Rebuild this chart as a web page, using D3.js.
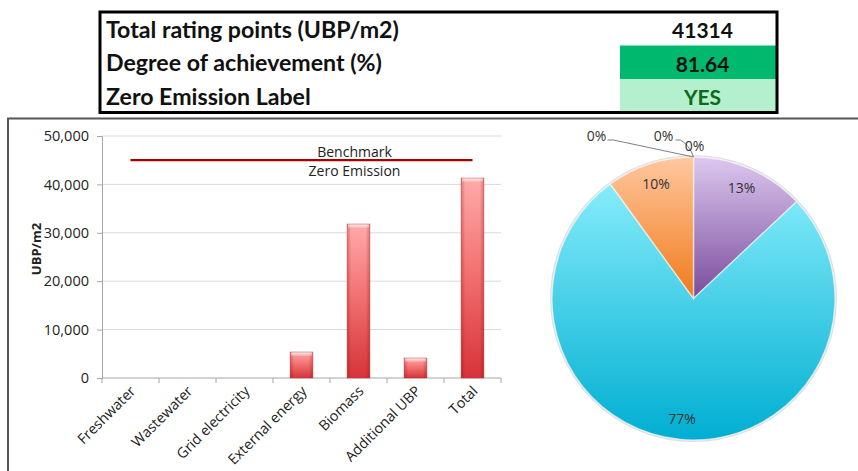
<!DOCTYPE html>
<html>
<head>
<meta charset="utf-8">
<script src="https://cdn.jsdelivr.net/npm/d3@7/dist/d3.min.js"></script>
<style>
  html, body { margin: 0; padding: 0; background: #ffffff; }
  svg { display: block; }
</style>
</head>
<body>
<svg id="chart" width="858" height="471"></svg>
<script>
// ---- data ----
const categories = ["Freshwater", "Wastewater", "Grid electricity", "External energy", "Biomass", "Additional UBP", "Total"];
const values = [0, 0, 0, 5370, 31813, 4131, 41314];
const yTicks = [0, 10000, 20000, 30000, 40000, 50000];
const benchmarkValue = 45000;
const benchmarkLabels = ["Benchmark", "Zero Emission"];
const yAxisTitle = "UBP/m2";

// pie uses every component except the total
const pieCategories = categories.slice(0, 6);
const pieValues = values.slice(0, 6);
const pieColors = [
  ["#9dbbe6", "#4a7ebb"],
  ["#f0a3a1", "#be4b48"],
  ["#cde3a6", "#98b954"],
  ["#dcc8ef", "#7a4b9c"],
  ["#86ecfb", "#00aed1"],
  ["#ffc79f", "#f07a1a"]
];

const summaryLabels = ["Total rating points (UBP/m2)", "Degree of achievement (%)", "Zero Emission Label"];
const summaryValues = ["41314", "81.64", "YES"];

// ---- setup ----
const svg = d3.select("#chart");
const defs = svg.append("defs");
const FONT = "'Open Sans', 'Noto Sans', sans-serif";

const grad = (id, x2, y2, stops) => {
  const g = defs.append("linearGradient").attr("id", id)
    .attr("x1", 0).attr("y1", 0).attr("x2", x2).attr("y2", y2);
  stops.forEach(([o, c, a]) => g.append("stop").attr("offset", o).attr("stop-color", c).attr("stop-opacity", a == null ? 1 : a));
};
grad("barFill", 0, 1, [[0, "#ffaaaa"], [0.45, "#f37373"], [1, "#d6333a"]]);
grad("barShade", 1, 0, [[0, "#8a0000", 0.3], [0.18, "#8a0000", 0], [0.82, "#8a0000", 0], [1, "#8a0000", 0.3]]);
grad("barCap", 0, 1, [[0, "#ffffff", 0.75], [1, "#ffffff", 0]]);
pieColors.forEach((c, i) => grad("slice" + i, 0, 1, [[0, c[0]], [1, c[1]]]));

// ---- summary table ----
const table = { x0: 100, x1: 777, y0: 12, rowH: 33.5, valX0: 620 };
const rowFills = ["#ffffff", "#00b96e", "#b4efce"];
const valueColors = ["#111111", "#111111", "#0b6a1c"];
const tg = svg.append("g");

summaryLabels.forEach((lab, i) => {
  const yTop = table.y0 + i * table.rowH;
  tg.append("rect").attr("x", table.valX0).attr("y", yTop)
    .attr("width", table.x1 - table.valX0).attr("height", table.rowH)
    .attr("fill", rowFills[i]);
});
tg.append("rect").attr("x", table.x0).attr("y", table.y0)
  .attr("width", table.x1 - table.x0).attr("height", table.rowH * 3)
  .attr("fill", "none").attr("stroke", "#000").attr("stroke-width", 3);

const labelTexts = tg.selectAll("text.lab").data(summaryLabels).join("text")
  .attr("class", "lab")
  .attr("x", table.x0 + 6)
  .attr("y", (d, i) => table.y0 + i * table.rowH + table.rowH / 2)
  .attr("dominant-baseline", "central")
  .attr("font-family", "Lato, 'Open Sans', sans-serif")
  .attr("font-weight", 700)
  .attr("font-size", 21)
  .attr("fill", "#111")
  .text(d => d);
// size the label font so the first row fills its measured width
const w0 = labelTexts.node().getComputedTextLength();
labelTexts.attr("font-size", 21 * 293 / w0);

tg.selectAll("text.val").data(summaryValues).join("text")
  .attr("class", "val")
  .attr("x", (table.valX0 + table.x1) / 2 + 4)
  .attr("y", (d, i) => table.y0 + i * table.rowH + table.rowH / 2 + 1)
  .attr("text-anchor", "middle")
  .attr("dominant-baseline", "central")
  .attr("font-family", "Lato, 'Open Sans', sans-serif")
  .attr("font-weight", 700)
  .attr("font-size", 21)
  .attr("fill", (d, i) => valueColors[i])
  .text(d => d);

// ---- panel frame ----
svg.append("path")
  .attr("d", "M8,471 L8,118.5 L858,118.5")
  .attr("fill", "none").attr("stroke", "#555").attr("stroke-width", 2);

// ---- bar chart ----
const plot = { left: 102, right: 501, top: 136, bottom: 378 };
const x = d3.scaleBand().domain(categories).range([plot.left, plot.right])
  .paddingInner(0.6).paddingOuter(0.3);
const y = d3.scaleLinear().domain([0, 50000]).range([plot.bottom, plot.top]);
const bw = x.bandwidth();
const bc = svg.append("g");

// gridlines
bc.selectAll("line.grid").data(yTicks.filter(t => t > 0)).join("line")
  .attr("x1", plot.left).attr("x2", plot.right)
  .attr("y1", d => y(d)).attr("y2", d => y(d))
  .attr("stroke", "#d9d9d9").attr("stroke-width", 1);

// y axis
const yAxis = d3.axisLeft(y).tickValues(yTicks).tickFormat(d3.format(",")).tickSize(5).tickPadding(8);
const yg = bc.append("g").attr("transform", `translate(${plot.left},0)`).call(yAxis);
yg.select(".domain").attr("stroke", "#a6a6a6");
yg.selectAll(".tick line").attr("stroke", "#a6a6a6");
yg.selectAll(".tick text").attr("font-family", FONT)
  .attr("font-size", 14.5).attr("fill", "#222");

// x axis line and category boundary ticks
bc.append("line").attr("x1", plot.left).attr("x2", plot.right)
  .attr("y1", plot.bottom).attr("y2", plot.bottom).attr("stroke", "#a6a6a6");
const bounds = d3.range(categories.length + 1).map(i => plot.left + i * x.step());
bc.selectAll("line.xt").data(bounds).join("line")
  .attr("x1", d => d).attr("x2", d => d)
  .attr("y1", plot.bottom).attr("y2", plot.bottom + 5)
  .attr("stroke", "#a6a6a6");

// category labels
bc.selectAll("text.cat").data(categories).join("text")
  .attr("class", "cat")
  .attr("transform", d => `translate(${x(d) + bw / 2 + 6},${plot.bottom + 14}) rotate(-45)`)
  .attr("text-anchor", "end")
  .attr("font-family", FONT)
  .attr("font-size", 14.3)
  .attr("fill", "#222")
  .text(d => d);

// y axis title
bc.append("text")
  .attr("transform", `translate(36,${(plot.top + plot.bottom) / 2 - 8}) rotate(-90)`)
  .attr("text-anchor", "middle").attr("dominant-baseline", "central")
  .attr("font-family", FONT).attr("font-weight", 700)
  .attr("font-size", 13).attr("fill", "#222")
  .text(yAxisTitle);

// bars
const bars = bc.selectAll("g.bar").data(categories.map((c, i) => ({ c, v: values[i] })).filter(d => d.v > 0))
  .join("g").attr("class", "bar");
bars.append("rect")
  .attr("x", d => x(d.c)).attr("y", d => y(d.v))
  .attr("width", bw).attr("height", d => y(0) - y(d.v))
  .attr("fill", "url(#barFill)");
bars.append("rect")
  .attr("x", d => x(d.c)).attr("y", d => y(d.v))
  .attr("width", bw).attr("height", d => y(0) - y(d.v))
  .attr("fill", "url(#barShade)")
  .attr("stroke", "#b83a3a").attr("stroke-opacity", 0.55).attr("stroke-width", 0.8);
bars.append("rect")
  .attr("x", d => x(d.c) + 1).attr("y", d => y(d.v) + 0.5)
  .attr("width", bw - 2).attr("height", 4)
  .attr("fill", "url(#barCap)");

// benchmark line and labels
const bx1 = x(categories[0]) + bw / 2;
const bx2 = x(categories[categories.length - 1]) + bw / 2;
bc.append("line")
  .attr("x1", bx1).attr("x2", bx2)
  .attr("y1", y(benchmarkValue)).attr("y2", y(benchmarkValue))
  .attr("stroke", "#a80000").attr("stroke-width", 2.2);
const labX = x("Biomass") + bw / 2 - 4;
bc.selectAll("text.bm").data(benchmarkLabels).join("text")
  .attr("x", labX)
  .attr("y", (d, i) => y(benchmarkValue) + (i === 0 ? -9 : 10))
  .attr("text-anchor", "middle").attr("dominant-baseline", "central")
  .attr("font-family", FONT).attr("font-size", 14)
  .attr("fill", "#222")
  .text(d => d);

// ---- pie chart ----
const pc = { cx: 693.5, cy: 298.5, r: 141.5 };
const total = d3.sum(pieValues);
const arcs = d3.pie().sort(null).value(d => d)(pieValues);
const arc = d3.arc().innerRadius(0).outerRadius(pc.r);
const pg = svg.append("g").attr("transform", `translate(${pc.cx},${pc.cy})`);

pg.append("circle").attr("r", pc.r + 1).attr("fill", "none")
  .attr("stroke", "#000").attr("stroke-opacity", 0.12).attr("stroke-width", 2);
pg.selectAll("path.slice").data(arcs).join("path")
  .attr("class", "slice")
  .attr("d", arc)
  .attr("fill", (d, i) => `url(#slice${i})`)
  .attr("stroke", "#ffffff").attr("stroke-opacity", 0.55).attr("stroke-width", 1.4);

const fmt = d3.format(".0%");
const labelArc = d3.arc().innerRadius(121).outerRadius(121);
pg.selectAll("text.pct").data(arcs.filter(d => d.value > 0)).join("text")
  .attr("x", d => labelArc.centroid(d)[0])
  .attr("y", d => labelArc.centroid(d)[1])
  .attr("text-anchor", "middle").attr("dominant-baseline", "central")
  .attr("font-family", FONT).attr("font-size", 14)
  .attr("fill", "#333")
  .text(d => fmt(d.value / total));

// labels for the empty slices, pulled out above the top of the pie
const zeroArcs = arcs.filter(d => d.value === 0);
const zeroOffsets = [[-97, -22], [-30, -22], [1, -12]];
const leaderPaths = [
  `M${-86},${-pc.r - 17} L${-80},${-pc.r - 17} L0,${-pc.r}`,
  `M${-18},${-pc.r - 17} L${-13},${-pc.r - 17} Q${-4},${-pc.r - 12} 0,${-pc.r}`,
  null
];
zeroArcs.forEach((d, i) => {
  if (leaderPaths[i]) {
    pg.append("path").attr("d", leaderPaths[i]).attr("fill", "none")
      .attr("stroke", "#7f7f7f").attr("stroke-width", 1);
  }
  pg.append("text")
    .attr("x", zeroOffsets[i][0]).attr("y", -pc.r + zeroOffsets[i][1])
    .attr("text-anchor", "middle").attr("dominant-baseline", "central")
    .attr("font-family", FONT).attr("font-size", 14)
    .attr("fill", "#333")
    .text(fmt(d.value / total));
});
</script>
</body>
</html>
